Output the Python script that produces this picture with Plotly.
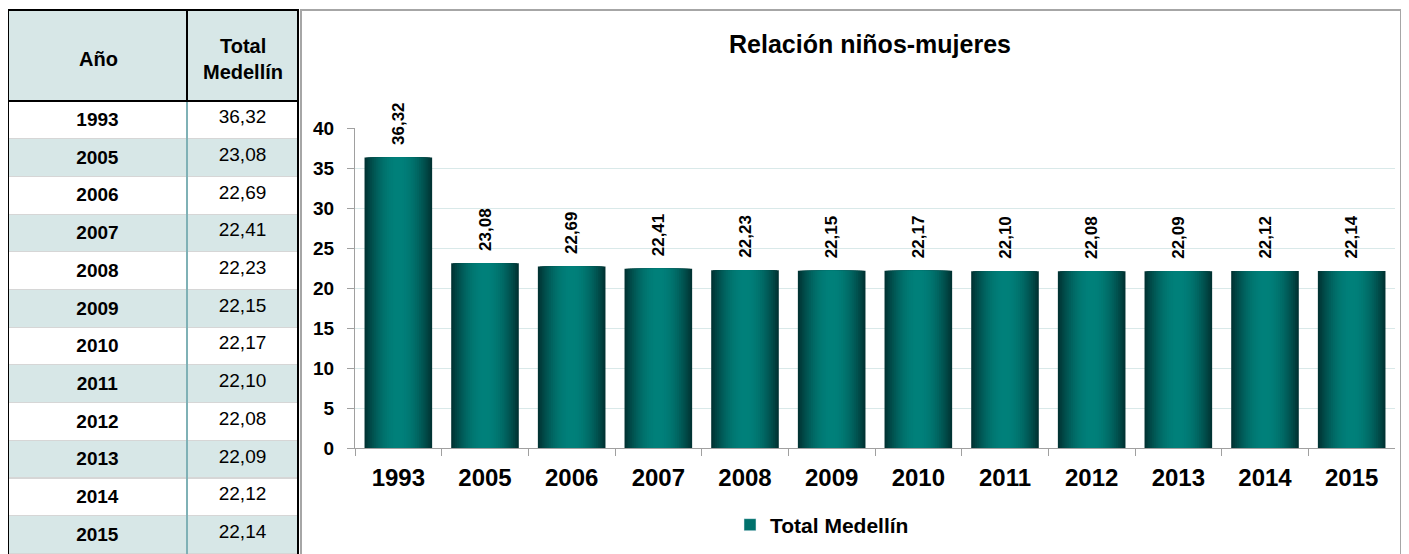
import plotly.graph_objects as go
import numpy as np

years = ["1993", "2005", "2006", "2007", "2008", "2009", "2010", "2011", "2012", "2013", "2014", "2015"]
values = [36.32, 23.08, 22.69, 22.41, 22.23, 22.15, 22.17, 22.10, 22.08, 22.09, 22.12, 22.14]
series_name = "Total Medellín"
title = "Relación niños-mujeres"
col_headers = ["Año", "Total", "Medellín"]
y_ticks = [0, 5, 10, 15, 20, 25, 30, 35, 40]

OFF = 8  # browser body margin
W, H = 1409 - OFF, 554 - OFF
FONT = "Liberation Sans, Arial, sans-serif"


def fmt(v):
    return f"{v:.2f}".replace(".", ",")


labels = [fmt(v) for v in values]


def px_x(p):
    return (p - OFF) / W


def px_y(p):
    return 1 - (p - OFF) / H


fig = go.Figure()

# ---- table ----
light = "#d7e7e7"
row_fill = [("white" if i % 2 == 0 else light) for i in range(len(years))]
fig.add_trace(go.Table(
    domain=dict(x=[px_x(8), px_x(298)], y=[0, px_y(10)]),
    columnwidth=[179, 111],
    header=dict(
        values=["", ""],
        fill_color=light,
        line=dict(color="black", width=2),
        height=91,
    ),
    cells=dict(
        values=[[f"<b>{y}</b>" for y in years], labels],
        fill_color=[row_fill, row_fill],
        line=dict(color="#d6d6d6", width=1),
        align="center",
        font=dict(family=FONT, size=19, color="black"),
        height=37.7,
    ),
))

# ---- gradient bars (layered overlay) ----
N = 18
edge = np.array([0x00, 0x33, 0x33])
center = np.array([0x00, 0x80, 0x7a])
full_w = 0.78
for k in range(N):
    frac = k / (N - 1)
    w = full_w * (1 - frac * 0.94)
    t = np.sin(frac * np.pi / 2) ** 0.9
    c = edge + (center - edge) * t
    col = "rgb(%d,%d,%d)" % tuple(int(round(x)) for x in c)
    first = k == 0
    fig.add_trace(go.Bar(
        x=years, y=values, width=w,
        marker=dict(color=col, line=dict(width=0)),
        name=series_name,
        showlegend=False,
        text=["\u00a0\u00a0<b>" + s + "</b>" for s in labels] if first else None,
        textposition="outside" if first else "none",
        textangle=-90,
        textfont=dict(family=FONT, size=17, color="black"),
        cliponaxis=False,
        hoverinfo="skip",
    ))

# legend entry
fig.add_trace(go.Bar(
    x=[None], y=[None], name="<b>" + series_name + "</b>",
    marker=dict(color="#00716c"), showlegend=True,
))

annotations = [
    dict(text="<b>" + col_headers[0] + "</b>", x=px_x(98), y=px_y(59)),
    dict(text="<b>" + col_headers[1] + "</b>", x=px_x(243), y=px_y(46)),
    dict(text="<b>" + col_headers[2] + "</b>", x=px_x(243), y=px_y(72)),
]
for a in annotations:
    a.update(xref="paper", yref="paper", showarrow=False, xanchor="center",
             yanchor="middle", font=dict(family=FONT, size=20, color="black"))

fig.update_layout(
    width=W, height=H,
    margin=dict(l=0, r=0, t=0, b=0, autoexpand=False),
    paper_bgcolor="white", plot_bgcolor="white",
    barmode="overlay",
    font=dict(family=FONT, color="black"),
    title=dict(text="<b>" + title + "</b>", x=px_x(870), xanchor="center",
               y=px_y(44), yanchor="middle",
               font=dict(family=FONT, size=25, color="black")),
    xaxis=dict(
        domain=[px_x(355), px_x(1395)],
        type="category", range=[-0.5, 11.5],
        tickfont=dict(family=FONT, size=24, color="black"),
        ticks="outside", ticklen=7, tickcolor="#a0a0a0",
        tickson="boundaries",
        showline=True, linecolor="#a0a0a0", linewidth=1,
        showgrid=False,
        tickprefix="<b>", ticksuffix="</b>",
        ticklabelstandoff=8,
    ),
    yaxis=dict(
        domain=[px_y(448), px_y(128)],
        range=[0, 40], tickvals=y_ticks,
        ticktext=[f"<b>{v}</b>" for v in y_ticks],
        tickfont=dict(family=FONT, size=19, color="black"),
        ticks="outside", ticklen=7, tickcolor="#a0a0a0",
        showline=True, linecolor="#a0a0a0", linewidth=1,
        showgrid=True, gridcolor="#d9e9e9", gridwidth=1,
        zeroline=False,
        ticklabelstandoff=9,
    ),
    legend=dict(orientation="h", x=px_x(822), xanchor="center",
                y=px_y(525), yanchor="middle",
                font=dict(family=FONT, size=21, color="black"),
                bgcolor="rgba(0,0,0,0)"),
    annotations=annotations,
    shapes=[
        dict(type="rect", xref="paper", yref="paper",
             x0=px_x(301), x1=px_x(1401), y0=px_y(560), y1=px_y(10),
             line=dict(color="#a6a6a6", width=2), layer="above"),
        dict(type="rect", xref="paper", yref="paper",
             x0=px_x(8), x1=px_x(298), y0=px_y(560), y1=px_y(10),
             line=dict(color="black", width=2), layer="above"),
        dict(type="line", xref="paper", yref="paper",
             x0=px_x(187), x1=px_x(187), y0=px_y(560), y1=px_y(102),
             line=dict(color="#7fb1b6", width=2), layer="above"),
    ],
)

fig.write_html("out.html")
